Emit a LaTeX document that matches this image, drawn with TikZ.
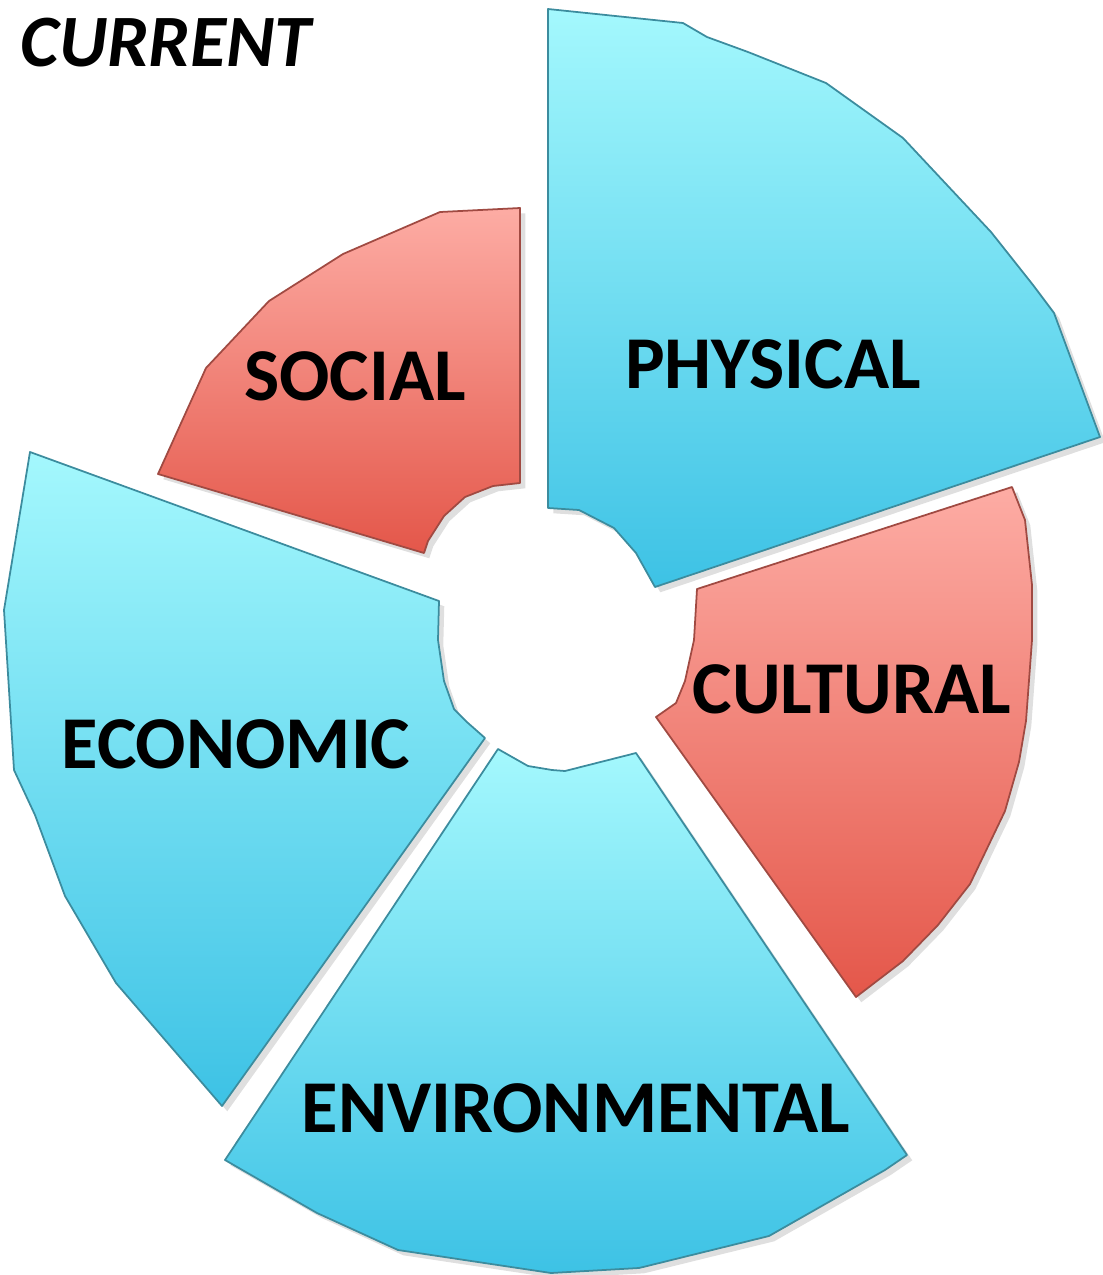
\documentclass[tikz,border=0pt]{standalone}
\usepackage{fontspec}
\setmainfont{Carlito}
\usetikzlibrary{shadows}
\definecolor{cyantop}{HTML}{A4F8FD}
\definecolor{cyanbot}{HTML}{3DC2E5}
\definecolor{cyanline}{HTML}{3C8C9E}
\definecolor{redtop}{HTML}{FDACA4}
\definecolor{redbot}{HTML}{E4574A}
\definecolor{redline}{HTML}{A04A42}

\begin{document}
\begin{tikzpicture}[x=0.01cm, y=-0.01cm,
         bluepart/.style = {top color=cyantop, bottom color=cyanbot,
         draw=cyanline, line width=0.5pt, line join=round,
         drop shadow={shadow xshift=1.5pt, shadow yshift=-1.5pt, opacity=0.25}},
         redpart/.style = {top color=redtop, bottom color=redbot,
         draw=redline, line width=0.5pt, line join=round,
         drop shadow={shadow xshift=1.5pt, shadow yshift=-1.5pt, opacity=0.25}},
         sectortext/.style = {font=\fontsize{21.2}{24}\selectfont\bfseries,
         anchor=base, inner sep=0pt}]

   \useasboundingbox (0,0) rectangle (1102,1275);

   % physical
   \path[bluepart] (548,9) -- (683,23) -- (707,37) -- (748,52) -- (826,83)
      -- (903,138) -- (991,232) -- (1033,285) -- (1054,313) -- (1100,437)
      -- (655,587) -- (636,553) -- (614,528) -- (579,510) -- (548,508) -- cycle;

   % social
   \path[redpart] (520,208) -- (440,212) -- (343,254) -- (269,301) -- (206,368)
      -- (158,474) -- (424,553) -- (428,541) -- (444,516) -- (465,497)
      -- (493,486) -- (520,483) -- cycle;

   % economic
   \path[bluepart] (30,452) -- (439,601) -- (438,640) -- (444,681) -- (454,709)
      -- (468,723) -- (485,738) -- (222,1106) -- (116,983) -- (65,896)
      -- (35,815) -- (14,770) -- (4,610) -- cycle;

   % environmental
   \path[bluepart] (498,749) -- (528,766) -- (552,770) -- (565,771) -- (636,753)
      -- (907,1155) -- (885,1170) -- (769,1236) -- (639,1268) -- (551,1273)
      -- (398,1250) -- (317,1213) -- (225,1160) -- cycle;

   % cultural
   \path[redpart] (697,589) -- (1012,487) -- (1025,520) -- (1032,585) -- (1032,640)
      -- (1026,721) -- (1019,762) -- (1005,811) -- (970,884) -- (938,925)
      -- (903,961) -- (856,997) -- (656,717) -- (676,703) -- (685,681)
      -- (694,640) -- cycle;

   % sector names
   \node[sectortext] (physical)  at (773,388)  {PHYSICAL};
   \node[sectortext] (social)    at (355,400)  {SOCIAL};
   \node[sectortext] (cultural)  at (852,713)  {CULTURAL};
   \node[sectortext] (economic)  at (236,768)  {ECONOMIC};
   \node[sectortext] (environ)   at (576,1132) {ENVIRONMENTAL};

   \node[font=\fontsize{21}{24}\selectfont\bfseries\itshape,
         anchor=base west, inner sep=0pt] (current) at (20,66) {CURRENT};
\end{tikzpicture}
\end{document}
